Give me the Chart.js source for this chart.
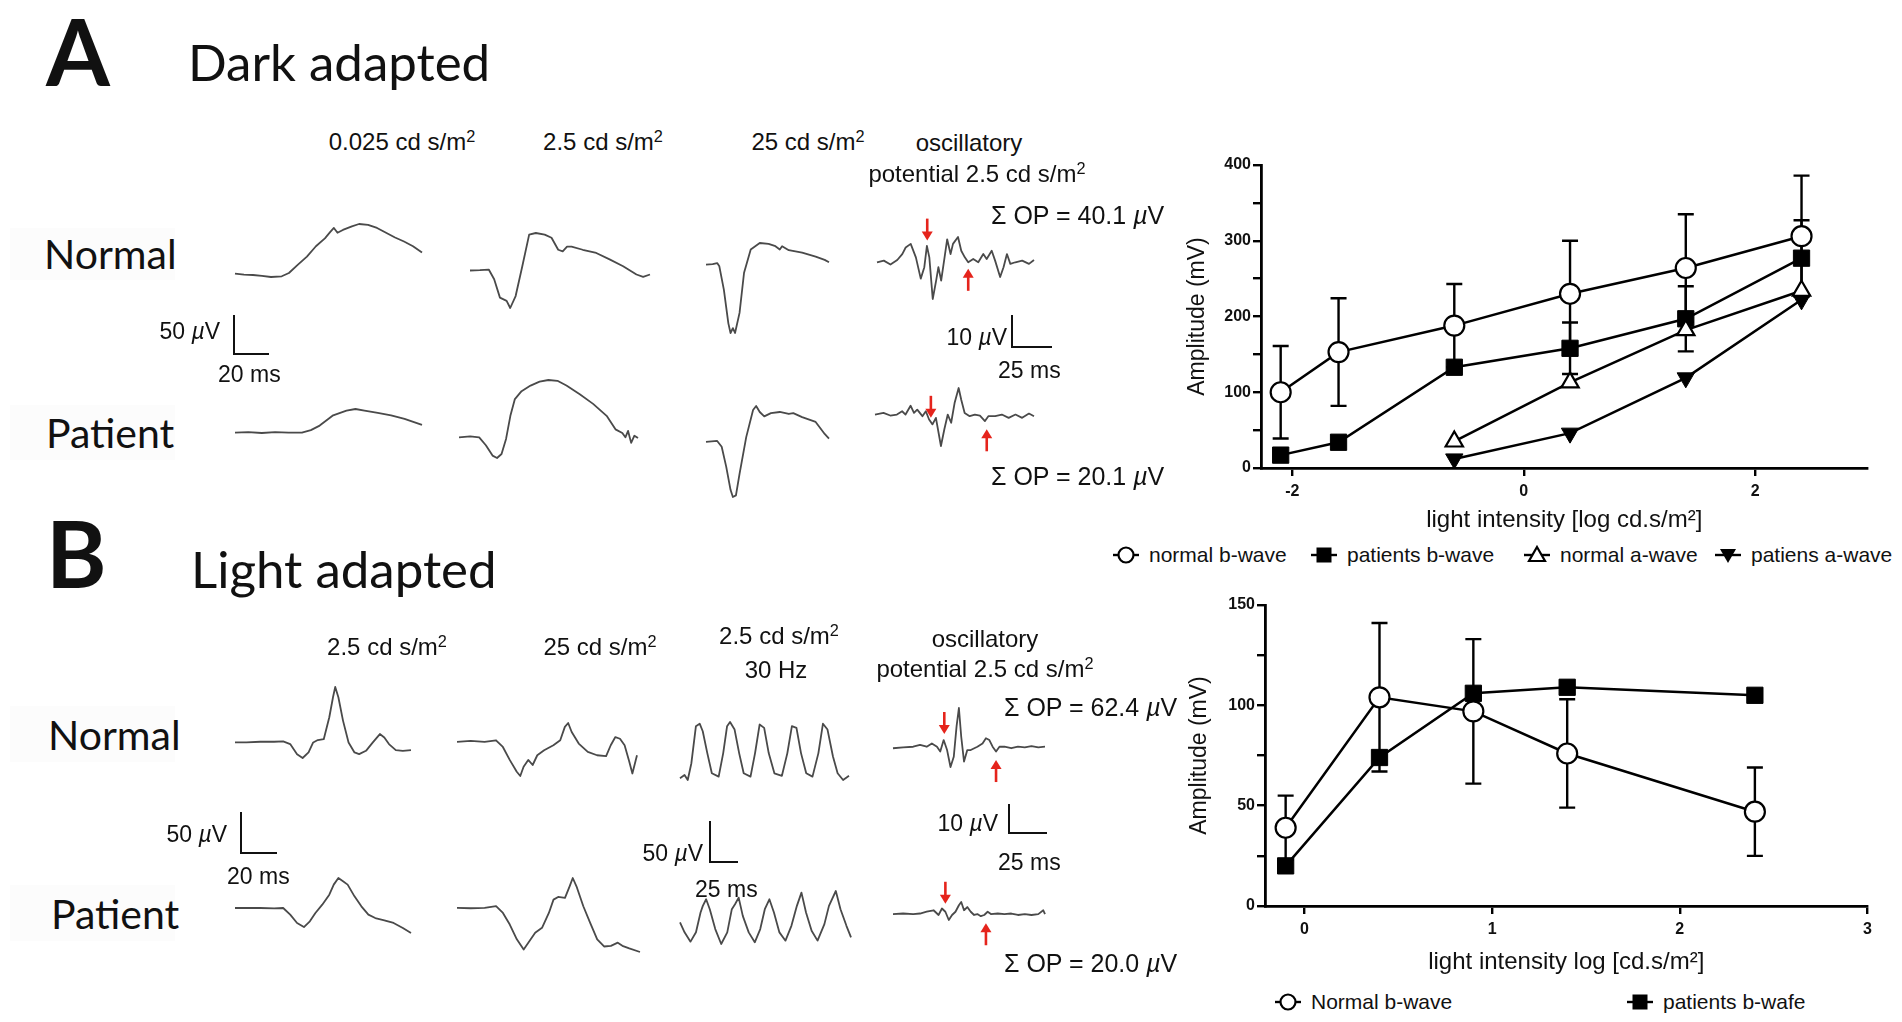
<!DOCTYPE html>
<html><head><meta charset="utf-8">
<script src="https://cdn.jsdelivr.net/npm/chart.js@4.4.1/dist/chart.umd.min.js"></script>
<style>
html,body{margin:0;padding:0;background:#fff;}
#stage{position:relative;width:1902px;height:1022px;overflow:hidden;background:#fff;font-family:"Liberation Sans",Arial,sans-serif;color:#111;}
.lbl{position:absolute;white-space:nowrap;line-height:1;}
.box{position:absolute;}
.bar{position:absolute;border-left:2.5px solid #111;border-bottom:2.5px solid #111;box-sizing:border-box;}
.tag{position:absolute;background:rgba(0,0,0,0.012);}
sup{font-size:0.68em;position:relative;top:-0.5em;vertical-align:baseline;line-height:0;}
.leg{position:absolute;display:flex;align-items:center;white-space:nowrap;font-family:"Liberation Sans",Arial,sans-serif;font-size:21px;color:#111;}
</style></head><body><div id="stage"></div>
<script>
// ================= DATA: right-hand summary charts =================
const darkX = [-2.1, -1.6, -0.6, 0.4, 1.4, 2.4];
const darkNormalB = [100, 153, 188, 230, 264, 306];
const darkNormalBErr = [61, 71, 55, 70, 71, 80];
const darkPatientB = [17, 34, 133, 158, 197, 277];
const darkPatientBErr = [0, 0, 0, 34, 43, 50];
const darkAX = [-0.6, 0.4, 1.4, 2.4];
const darkNormalA = [35, 113, 182, 234];
const darkPatientA = [12, 46, 119, 222];
const darkXTicks = [-2, 0, 2];
const darkYTicks = [0, 50, 100, 150, 200, 250, 300, 350, 400];
const darkYLabels = [0, 100, 200, 300, 400];

const lightX = [-0.1, 0.4, 0.9, 1.4, 2.4];
const lightNormalB = [39, 104, 97, 76, 47];
const lightNormalBErr = [16, 37, 36, 27, 22];
const lightPatientB = [20, 74, 106, 109, 105];
const lightXTicks = [0, 1, 2, 3];
const lightYTicks = [0, 25, 50, 75, 100, 125, 150];
const lightYLabels = [0, 50, 100, 150];

// ================= DATA: ERG traces (time ms, amplitude µV) =================
const aNorm1T = [0,5,10,15,20,26,30,35,40,45,50,53,55,57,60,65,69,74,79,84,89,94,99,104];
const aNorm1V = [2.5,1.2,0.8,-0.4,-1.7,-0.8,3.3,13.8,24,37,47,55,60,54,57.5,62,65,64,60,54,48,43,37,29];
const aNorm2T = [0,5.5,10.4,13.4,16.6,20.3,22.3,25.3,29,32.8,36.5,41.4,45.2,48.9,51.4,53.8,56.3,62.5,70,77.4,84.9,92.3,96,99.8];
const aNorm2V = [0,0.4,1.2,-11,-34,-38,-47,-32,5.4,45,47,45,41,26,24,30,30,26,22,14,5.4,-5,-8,-5];
const aNorm3T = [0,3.7,6.2,7.4,9.9,12.4,13.6,14.9,16.1,18.6,21.1,24.8,29.8,34.7,38.5,40.9,42.2,45.9,53.3,60.8,65.8,68.2];
const aNorm3V = [0,0.8,2,-2,-31,-73,-85,-79,-85,-60,-10,19,27,26,23,19,23,18,15,10,6,3];
const aNormOPT = [0,4.2,8.3,12.5,15.6,17.7,20.8,24,27,29.2,30.8,32.3,34.4,36.5,37.9,39.6,41.7,43.3,45.4,46.9,50,52,54.2,56.3,59.4,62.5,65.6,67.7,70.8,72.9,76,78.1,80.2,82.3,85.4,89.6,93.8,96.9];
const aNormOPV = [0,0.5,-0.7,0.7,2.5,4.5,5.6,1.5,-5,-1.5,5,1.5,-11.2,-5.6,-1.5,-5.6,1.5,7,2.5,5.6,7.7,3.5,1.5,0,1,0,2.5,1,3.5,0.5,-4.5,-1.5,2.5,-0.5,0,0.5,-0.5,0.7];

const aPat1T = [0,7.4,14.9,22.3,29.8,37.2,42.2,47.1,54.6,62,67,72,79.4,86.8,94.3,104];
const aPat1V = [0,0.8,-0.4,0.8,0,0,3.3,9,22,28,30,28,25,22,17.5,10];
const aPat2T = [0,6.2,11.2,14.9,18.6,21.1,23.6,26.1,28.5,31,34.7,39.7,44.7,49.6,54.6,59.6,67,74.4,81.9,86.8,90.6,92.3,93.8,95.5,97.3,99.3];
const aPat2V = [0,1.2,0,-10,-23,-26,-21,-2,27,48,58,65,70,72,71,65,54,42,27,10,5.4,0,8,-7,2,-1];
const aPat3T = [0,6.2,8.7,11.2,13.6,14.9,16.6,18.6,22.3,26.1,27.8,29.8,32.3,36,40.9,45.9,48.4,53.3,60.8,65.8,68.2];
const aPat3V = [0,1.2,-6,-31,-60,-69,-67,-40,6,40,45,37.5,32,36,37.5,35,36,31,25,10,4];
const aPatOPT = [0,5.2,9.4,13.5,16.7,18.8,21.9,24,26,29.2,31.3,33.3,35.4,37.5,40.6,42.7,44.8,46.9,49,51.5,53.1,55.2,58.3,61.5,64.6,67.7,69.8,74,78.1,82.3,86.5,90.6,94.8,97.9];
const aPatOPV = [0,0.5,-0.3,0,1,0,2.7,0.5,1.5,-0.5,1,-1.5,-3,-1,-9.6,-4.5,0,-2.5,3.5,8.1,4.5,0.5,-0.5,0,-0.3,-2,-0.5,-0.5,0,-1,0,-1,0.3,-0.5];

const bNorm1T = [0,6.2,13.6,21.1,26,29.8,33.5,36.5,39.7,42.2,44.7,47.9,50.9,52.9,54.1,55.8,58.3,61.3,64.5,67,70.7,74.4,78.2,80.6,83.1,86.8,90.6,95];
const bNorm1V = [-0.8,-0.8,0,0,0.4,-2.7,-14.5,-19,-12.5,-0.8,2,3,28.6,52,64,52,24.7,-0.8,-12.5,-14.5,-10.6,-0.8,9,5,-2.7,-9.8,-10.6,-9.8];
const bNorm2T = [0,7.4,14.9,21.1,24.8,28.5,32.3,34.2,36,38.5,40.9,43.4,47.1,52.1,55.8,58.3,60.1,62,65.8,70.7,75.7,80.6,83.1,85.6,88.1,90.6,93.1,94.8,97.3];
const bNorm2V = [-0.8,0.4,-0.8,1.2,-6.7,-22,-36,-41,-30,-22,-28,-16.5,-10.6,-4.7,1.2,17,21.6,11,-2.7,-12.5,-16.5,-17.6,-4.7,5,3,-4.7,-24,-38,-16.5];
const bNormFlkT = [0,4,6.8,10,14,17.3,20,24,28,34,38,41.4,44,48,52,56,62,66,70,74,78,83,89.6,94.4,98.4,102.4,106.4,111,116.5,121.7,125.7,129.7,134.5,138.6,143.4,148.6];
const bNormFlkV = [-2,2,-4,16,60,63,54,28,4,0,28,60,65,56,28,4,0,28,62,58,28,4,1,28,60,58,28,4,0,28,63,56,24,4,-4,1];
const bNormOPT = [0,6.5,13,17.4,21.7,25,28.3,30.4,32.6,34.8,37,39.1,40.9,42.4,43.9,45.7,47.8,50,54.3,57.6,59.8,62,64.1,66.3,68.5,71.7,76.1,80.4,84.8,89.1,93.5,97.8];
const bNormOPV = [-0.3,0,0.2,0.8,0.2,1.3,0.2,-1.4,2.4,-0.9,-6.5,-3.1,6.9,13,3.5,-4.7,-0.9,-0.9,0.2,1.3,3,2.4,0.2,-1.4,0.2,0.2,-0.3,0.2,0,0.4,0,0.2];

const bPat1T = [0,6.2,13.6,21.1,26,29.8,33.5,37.2,40.4,43.4,47.1,50.9,53.3,55.8,58.3,60.8,64.5,68.2,72,75.7,80.6,85.6,90.6,95];
const bPat1V = [0,0,0,-0.4,0,-7.8,-17.6,-22.4,-15.7,-5.9,3.9,15.7,27.5,35.3,31.4,27.5,13.7,2,-7.8,-11.8,-14.5,-17.6,-23.5,-29.4];
const bPat2T = [0,7.4,14.9,21.1,24.8,28.5,32.3,36,38.5,42.2,45.9,49.6,52.1,54.6,58.3,60.8,62.5,64.5,68.2,71.9,75.7,79.4,83.1,86.8,89.3,93,98.8];
const bPat2V = [0,-0.4,0,2,-5.9,-19.6,-37,-49,-41,-29.4,-23.5,-5.9,9.8,13,11.8,25.5,35.3,25.5,2,-17.6,-37,-45.5,-44.7,-41,-44.7,-47.8,-52];
const bPatFlkT = [0,4,9.2,14,18,20,22.9,26.1,30.9,36.1,41.4,45.4,48.2,51.4,55,60.2,65.5,70.3,74.3,78.3,82.3,87.1,92.4,97.6,102.4,106.4,110.4,115.3,120.5,126.5,130.5,136.5,140.6,145.8,149.8];
const bPatFlkV = [24,12,0.8,12,35.7,43.7,51.6,39.7,15.9,-2,11.9,39.7,45.6,53.6,31.7,11.9,0,15.9,39.7,51.6,35.7,11.9,2,19.8,43.7,59.5,35.7,13.9,2,21.8,43.7,61.5,39.7,19.8,6];
const bPatOPT = [0,6.5,13,17.4,21.7,26.1,29.3,31.5,33.7,35.9,38,40.2,42.4,43.9,45.7,47.8,50,52.2,54.3,56.5,58.7,60.9,63,67.4,71.7,76.1,80.4,84.8,89.1,93.5,96.7,97.8];
const bPatOPV = [0,0.2,0,0.2,0.8,1.3,-0.3,1.9,0.8,-2,-0.3,0.8,3,4.1,1.3,2.4,0.8,-0.3,0,-0.7,-0.3,0.8,0,0.2,0,0.2,-0.3,0,-0.3,0,1.3,0];

// OP peak markers (time ms, tip amplitude µV)
const aNormOPArrows = [{t:31, tip:6.6, dir:'down'}, {t:56.3, tip:-2, dir:'up'}];
const aPatOPArrows  = [{t:34.4, tip:-1, dir:'down'}, {t:68.8, tip:-4.5, dir:'up'}];
const bNormOPArrows = [{t:33, tip:4.4, dir:'down'}, {t:66.3, tip:-4.2, dir:'up'}];
const bPatOPArrows  = [{t:33.7, tip:3.5, dir:'down'}, {t:59.8, tip:-3.1, dir:'up'}];

// ================= LAYOUT =================
const stage = document.getElementById('stage');
Chart.defaults.font.family = '"Liberation Sans", Arial, sans-serif';
Chart.defaults.color = '#111';
Chart.defaults.animation = false;

const SC = {
  aMain: {pxMs:1.8, pxUV:0.8},
  aOP:   {pxMs:1.62, pxUV:3.3},
  bMain: {pxMs:1.85, pxUV:0.85},
  bFlk:  {pxMs:1.14, pxUV:0.84},
  bOP:   {pxMs:1.55, pxUV:3.0}
};

const arrowPlugin = {
  id: 'opArrows',
  afterDatasetsDraw(chart, args, opts) {
    const list = opts.list || [];
    const {ctx} = chart, xs = chart.scales.x, ys = chart.scales.y;
    list.forEach(a => {
      const px = xs.getPixelForValue(a.t), py = ys.getPixelForValue(a.tip);
      const s = a.dir === 'down' ? -1 : 1;
      const len = 22, hl = 9, hw = 5.5;
      ctx.save();
      ctx.strokeStyle = '#e5241c'; ctx.fillStyle = '#e5241c'; ctx.lineWidth = 2.6;
      ctx.beginPath(); ctx.moveTo(px, py + s * len); ctx.lineTo(px, py + s * (hl - 1)); ctx.stroke();
      ctx.beginPath(); ctx.moveTo(px, py); ctx.lineTo(px - hw, py + s * hl); ctx.lineTo(px + hw, py + s * hl); ctx.closePath(); ctx.fill();
      ctx.restore();
    });
  }
};

function makeTrace(t, v, sc, x0, y0, arrows) {
  const tmin = Math.min(...t), tmax = Math.max(...t), vmin = Math.min(...v), vmax = Math.max(...v);
  const pad = 40;
  const w = Math.round((tmax - tmin) * sc.pxMs + 2 * pad), h = Math.round((vmax - vmin) * sc.pxUV + 2 * pad);
  const d = document.createElement('div'); d.className = 'box';
  d.style.left = (x0 + tmin * sc.pxMs - pad) + 'px';
  d.style.top = (y0 - vmax * sc.pxUV - pad) + 'px';
  d.style.width = w + 'px'; d.style.height = h + 'px';
  const cv = document.createElement('canvas'); cv.width = w; cv.height = h;
  cv.style.width = w + 'px'; cv.style.height = h + 'px';
  d.appendChild(cv); stage.appendChild(d);
  new Chart(cv, {
    type: 'line',
    data: {datasets: [{data: t.map((x, i) => ({x, y: v[i]})), borderColor: '#4a4a4a', borderWidth: 1.8,
      pointRadius: 0, tension: 0, clip: false, borderJoinStyle: 'round'}]},
    options: {responsive: false, maintainAspectRatio: false, events: [],
      layout: {padding: pad},
      plugins: {legend: {display: false}, tooltip: {enabled: false}, opArrows: {list: arrows || []}},
      scales: {x: {type: 'linear', display: false, min: tmin, max: tmax},
               y: {type: 'linear', display: false, min: vmin, max: vmax}}},
    plugins: arrows ? [arrowPlugin] : []
  });
}

// traces: [time, values, scale, left(px at t=0), baseline(px), arrows]
makeTrace(aNorm1T, aNorm1V, SC.aMain, 235, 276);
makeTrace(aNorm2T, aNorm2V, SC.aMain, 470, 271);
makeTrace(aNorm3T, aNorm3V, SC.aMain, 706, 265);
makeTrace(aNormOPT, aNormOPV, SC.aOP, 877, 262, aNormOPArrows);
makeTrace(aPat1T, aPat1V, SC.aMain, 235, 433);
makeTrace(aPat2T, aPat2V, SC.aMain, 459, 438);
makeTrace(aPat3T, aPat3V, SC.aMain, 706, 442);
makeTrace(aPatOPT, aPatOPV, SC.aOP, 875, 415, aPatOPArrows);
makeTrace(bNorm1T, bNorm1V, SC.bMain, 235, 741);
makeTrace(bNorm2T, bNorm2V, SC.bMain, 457, 741);
makeTrace(bNormFlkT, bNormFlkV, SC.bFlk, 680, 777);
makeTrace(bNormOPT, bNormOPV, SC.bOP, 893, 747, bNormOPArrows);
makeTrace(bPat1T, bPat1V, SC.bMain, 235, 908);
makeTrace(bPat2T, bPat2V, SC.bMain, 457, 908);
makeTrace(bPatFlkT, bPatFlkV, SC.bFlk, 680, 943);
makeTrace(bPatOPT, bPatOPV, SC.bOP, 893, 914, bPatOPArrows);

// scale bars (L shaped): left, bottom, ms, µV, scale
function scaleBar(x, yb, ms, uv, sc) {
  const d = document.createElement('div'); d.className = 'bar';
  const w = ms * sc.pxMs, h = uv * sc.pxUV;
  d.style.left = x + 'px'; d.style.top = (yb - h) + 'px'; d.style.width = w + 'px'; d.style.height = h + 'px';
  stage.appendChild(d);
}
scaleBar(233, 355, 20, 50, SC.aMain);
scaleBar(1011, 348, 25, 10, SC.aOP);
scaleBar(240, 854, 20, 50, SC.bMain);
scaleBar(709, 863, 25, 50, SC.bFlk);
scaleBar(1008, 834, 25, 10, SC.bOP);

// faint row-label boxes
[[10, 228, 165, 52], [10, 405, 165, 55], [10, 706, 165, 56], [10, 885, 165, 56]].forEach(b => {
  const d = document.createElement('div'); d.className = 'tag';
  d.style.left = b[0] + 'px'; d.style.top = b[1] + 'px'; d.style.width = b[2] + 'px'; d.style.height = b[3] + 'px';
  stage.appendChild(d);
});

// text labels
const SANS = '"Liberation Sans", Arial, sans-serif', LATO = 'Lato, "Open Sans", sans-serif';
const UV = '<i>&micro;</i>V';
const LABELS = [
  ['A', 46, 51, 'l', 92, LATO, 700],
  ['Dark adapted', 188, 61, 'l', 51, LATO, 400],
  ['Normal', 44, 253, 'l', 41, LATO, 400],
  ['Patient', 46, 432, 'l', 41, LATO, 400],
  ['0.025 cd s/m<sup>2</sup>', 402, 142, 'c', 24, SANS],
  ['2.5 cd s/m<sup>2</sup>', 603, 142, 'c', 24, SANS],
  ['25 cd s/m<sup>2</sup>', 808, 142, 'c', 24, SANS],
  ['oscillatory', 969, 143, 'c', 24, SANS],
  ['potential 2.5 cd s/m<sup>2</sup>', 977, 174, 'c', 24, SANS],
  ['&Sigma; OP = 40.1 ' + UV, 991, 215, 'l', 25, SANS],
  ['&Sigma; OP = 20.1 ' + UV, 991, 476, 'l', 25, SANS],
  ['50 ' + UV, 220, 331, 'r', 23, SANS],
  ['20 ms', 218, 374, 'l', 23, SANS],
  ['10 ' + UV, 1007, 337, 'r', 23, SANS],
  ['25 ms', 998, 370, 'l', 23, SANS],
  ['B', 46, 553, 'l', 92, LATO, 700],
  ['Light adapted', 191, 568, 'l', 51, LATO, 400],
  ['Normal', 48, 734, 'l', 41, LATO, 400],
  ['Patient', 51, 913, 'l', 41, LATO, 400],
  ['2.5 cd s/m<sup>2</sup>', 387, 647, 'c', 24, SANS],
  ['25 cd s/m<sup>2</sup>', 600, 647, 'c', 24, SANS],
  ['2.5 cd s/m<sup>2</sup>', 779, 636, 'c', 24, SANS],
  ['30 Hz', 776, 670, 'c', 24, SANS],
  ['oscillatory', 985, 639, 'c', 24, SANS],
  ['potential 2.5 cd s/m<sup>2</sup>', 985, 669, 'c', 24, SANS],
  ['&Sigma; OP = 62.4 ' + UV, 1004, 707, 'l', 25, SANS],
  ['&Sigma; OP = 20.0 ' + UV, 1004, 963, 'l', 25, SANS],
  ['50 ' + UV, 227, 834, 'r', 23, SANS],
  ['20 ms', 227, 876, 'l', 23, SANS],
  ['50 ' + UV, 703, 853, 'r', 23, SANS],
  ['25 ms', 695, 889, 'l', 23, SANS],
  ['10 ' + UV, 998, 823, 'r', 23, SANS],
  ['25 ms', 998, 862, 'l', 23, SANS]
];
LABELS.forEach(l => {
  const d = document.createElement('div'); d.className = 'lbl';
  d.innerHTML = l[0];
  d.style.left = l[1] + 'px'; d.style.top = l[2] + 'px';
  d.style.fontSize = l[4] + 'px'; d.style.fontFamily = l[5];
  if (l[6]) d.style.fontWeight = l[6];
  const tx = l[3] === 'c' ? '-50%' : (l[3] === 'r' ? '-100%' : '0');
  d.style.transform = 'translate(' + tx + ',-50%)';
  stage.appendChild(d);
});

// ================= right-hand charts =================
const errPlugin = {
  id: 'errBars',
  beforeDatasetsDraw(chart) {
    const {ctx} = chart, ys = chart.scales.y;
    chart.data.datasets.forEach((ds, i) => {
      if (!ds.errValues) return;
      const meta = chart.getDatasetMeta(i);
      meta.data.forEach((el, j) => {
        const e = ds.errValues[j]; if (!e) return;
        const v = ds.data[j].y;
        const top = ys.getPixelForValue(v + e), bot = ys.getPixelForValue(v - e);
        ctx.save(); ctx.strokeStyle = '#000'; ctx.lineWidth = 2.4;
        ctx.beginPath();
        ctx.moveTo(el.x, top); ctx.lineTo(el.x, bot);
        ctx.moveTo(el.x - 8, top); ctx.lineTo(el.x + 8, top);
        ctx.moveTo(el.x - 8, bot); ctx.lineTo(el.x + 8, bot);
        ctx.stroke(); ctx.restore();
      });
    });
  }
};

function pts(xs, ys) { return xs.map((x, i) => ({x, y: ys[i]})); }
const styleOpenCircle = {pointStyle: 'circle', pointRadius: 10, pointBackgroundColor: '#fff', pointBorderColor: '#000', pointBorderWidth: 2.2};
const styleSquare = {pointStyle: 'rect', pointRadius: 11.5, pointBackgroundColor: '#000', pointBorderColor: '#000', pointBorderWidth: 1};
const styleTri = {pointStyle: 'triangle', pointRadius: 10, pointBackgroundColor: '#fff', pointBorderColor: '#000', pointBorderWidth: 2.2};
const styleTriDown = {pointStyle: 'triangle', pointRotation: 180, pointRadius: 10, pointBackgroundColor: '#000', pointBorderColor: '#000', pointBorderWidth: 1};
const lineBase = {borderColor: '#000', borderWidth: 2.5, tension: 0, clip: false, showLine: true};

function makeSummary(left, top, width, height, cfg) {
  const d = document.createElement('div'); d.className = 'box';
  d.style.left = left + 'px'; d.style.top = top + 'px'; d.style.width = width + 'px'; d.style.height = height + 'px';
  const cv = document.createElement('canvas'); cv.width = width; cv.height = height;
  cv.style.width = width + 'px'; cv.style.height = height + 'px';
  d.appendChild(cv); stage.appendChild(d);
  const tickFont = {size: 16, weight: 'bold'};
  new Chart(cv, {
    type: 'scatter',
    data: {datasets: cfg.datasets},
    options: {
      responsive: false, maintainAspectRatio: false, events: [],
      layout: {padding: {top: 25, right: 10, left: 0, bottom: 0}},
      plugins: {legend: {display: false}, tooltip: {enabled: false}},
      scales: {
        x: {type: 'linear', min: cfg.xmin, max: cfg.xmax,
          afterBuildTicks: s => { s.ticks = cfg.xTicks.map(v => ({value: v})); },
          afterFit: s => { s.height = cfg.xAxisH; },
          ticks: {font: tickFont, color: '#111', padding: 6, maxRotation: 0, callback: v => String(v)},
          grid: {drawOnChartArea: false, drawTicks: true, tickLength: 8, color: '#000', lineWidth: 2.4},
          border: {display: true, color: '#000', width: 2.8},
          title: {display: true, text: cfg.xTitle, font: {size: 24}, color: '#111', padding: {top: 0, bottom: cfg.xTitlePad}}},
        y: {type: 'linear', min: 0, max: cfg.ymax,
          afterBuildTicks: s => { s.ticks = cfg.yTicks.map(v => ({value: v})); },
          afterFit: s => { s.width = cfg.yAxisW; },
          ticks: {font: tickFont, color: '#111', padding: 2, callback: v => cfg.yLabels.includes(v) ? String(v) : ''},
          grid: {drawOnChartArea: false, drawTicks: true, tickLength: 8, color: '#000', lineWidth: 2.4},
          border: {display: true, color: '#000', width: 2.8},
          title: {display: true, text: 'Amplitude (mV)', font: {size: 23}, color: '#111', padding: {top: cfg.yTitlePad, bottom: 0}}}
      }
    },
    plugins: [errPlugin]
  });
}

makeSummary(1150, 140, 730, 400, {
  xmin: -2.27, xmax: 2.97, ymax: 400, xTicks: darkXTicks, yTicks: darkYTicks, yLabels: darkYLabels,
  xAxisH: 72, yAxisW: 111, xTitlePad: 5, yTitlePad: 34,
  xTitle: 'light intensity [log cd.s/m\u00B2]',
  datasets: [
    Object.assign({label: 'normal b-wave', data: pts(darkX, darkNormalB), errValues: darkNormalBErr}, lineBase, styleOpenCircle),
    Object.assign({label: 'normal a-wave', data: pts(darkAX, darkNormalA)}, lineBase, styleTri),
    Object.assign({label: 'patients b-wave', data: pts(darkX, darkPatientB), errValues: darkPatientBErr}, lineBase, styleSquare),
    Object.assign({label: 'patiens a-wave', data: pts(darkAX, darkPatientA)}, lineBase, styleTriDown)
  ]
});

makeSummary(1150, 580, 730, 400, {
  xmin: -0.21, xmax: 3, ymax: 150, xTicks: lightXTicks, yTicks: lightYTicks, yLabels: lightYLabels,
  xAxisH: 74, yAxisW: 115, xTitlePad: 3, yTitlePad: 36,
  xTitle: 'light intensity log [cd.s/m\u00B2]',
  datasets: [
    Object.assign({label: 'Normal b-wave', data: pts(lightX, lightNormalB), errValues: lightNormalBErr}, lineBase, styleOpenCircle),
    Object.assign({label: 'patients b-wafe', data: pts(lightX, lightPatientB)}, lineBase, styleSquare)
  ]
});

// ================= legends =================
function sym(kind) {
  let m = '';
  if (kind === 'circle') m = '<circle cx="13" cy="10" r="7.5" fill="#fff" stroke="#000" stroke-width="2.2"/>';
  if (kind === 'square') m = '<rect x="5.5" y="2.5" width="15" height="15" fill="#000"/>';
  if (kind === 'tri') m = '<polygon points="13,2 21,16 5,16" fill="#fff" stroke="#000" stroke-width="2.2"/>';
  if (kind === 'tridown') m = '<polygon points="5,4 21,4 13,18" fill="#000"/>';
  return '<svg width="26" height="20" viewBox="0 0 26 20"><line x1="0" y1="10" x2="26" y2="10" stroke="#000" stroke-width="2.4"/>' + m + '</svg>';
}
const legendDark = [['circle', 'normal b-wave', 1113], ['square', 'patients b-wave', 1311], ['tri', 'normal a-wave', 1524], ['tridown', 'patiens a-wave', 1715]];
const legendLight = [['circle', 'Normal b-wave', 1275], ['square', 'patients b-wafe', 1627]];
function legend(items, y) {
  items.forEach(it => {
    const d = document.createElement('div'); d.className = 'leg';
    d.style.left = it[2] + 'px'; d.style.top = (y - 11) + 'px';
    d.innerHTML = sym(it[0]) + '<span style="margin-left:10px">' + it[1] + '</span>';
    stage.appendChild(d);
  });
}
legend(legendDark, 554);
legend(legendLight, 1001);
</script>
</body></html>
